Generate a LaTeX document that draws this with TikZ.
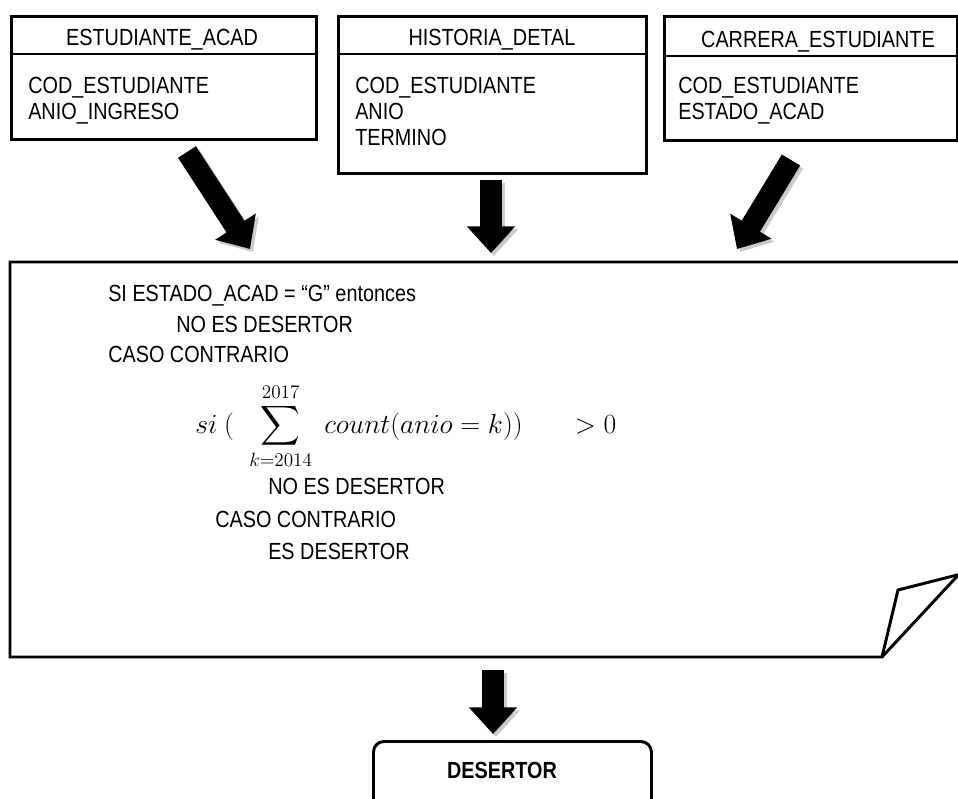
\documentclass[tikz,border=0pt]{standalone}
\usepackage{amsmath}
\usepackage{exscale}
\usepackage[no-math]{fontspec}
\setmainfont[FakeStretch=0.85]{Liberation Sans}
\usetikzlibrary{arrows.meta}
\tikzset{
  tbox/.style={draw, line width=2.2pt, anchor=north west, inner sep=0pt},
  sep/.style={line width=2.2pt},
  txt/.style={inner sep=0pt, font=\fontsize{17.5}{22}\selectfont},
  bigarrow/.style={line width=16pt, -{Triangle[width=35pt,length=20pt]}},
  shadowarrow/.style={line width=16pt, -{Triangle[width=35pt,length=20pt]}, draw=black!45, opacity=0.45},
  notebox/.style={line width=2.2pt, line join=miter}
}
\begin{document}
\begin{tikzpicture}[x=0.75pt,y=-0.75pt]
\useasboundingbox (0,0) rectangle (958,799);
\clip (0,0) rectangle (958,799);
% table boxes
\node[tbox, minimum width=228.75pt, minimum height=92.25pt] (b1) at (10,15) {};
\draw[sep] (10,54) -- (315,54);
\node[txt, anchor=base] (h1) at (162,46) {ESTUDIANTE\_ACAD};
\node[txt, anchor=base west] (b1a) at (28,94) {COD\_ESTUDIANTE};
\node[txt, anchor=base west] (b1b) at (28,120) {ANIO\_INGRESO};

\node[tbox, minimum width=231pt, minimum height=117.75pt] (b2) at (337,15) {};
\draw[sep] (337,54) -- (645,54);
\node[txt, anchor=base] (h2) at (492,46) {HISTORIA\_DETAL};
\node[txt, anchor=base west] (b2a) at (355,94) {COD\_ESTUDIANTE};
\node[txt, anchor=base west] (b2b) at (355,120) {ANIO};
\node[txt, anchor=base west] (b2c) at (355,146) {TERMINO};

\node[tbox, minimum width=219.75pt, minimum height=93pt] (b3) at (663,15) {};
\draw[sep] (663,56) -- (956,56);
\node[txt, anchor=base] (h3) at (818,48) {CARRERA\_ESTUDIANTE};
\node[txt, anchor=base west] (b3a) at (678,94) {COD\_ESTUDIANTE};
\node[txt, anchor=base west] (b3b) at (678,120) {ESTADO\_ACAD};

% arrows into the note
\coordinate (a1s) at (187,152);
\coordinate (a1e) at (250,249);
\coordinate (a2s) at (491,180);
\coordinate (a2e) at (491,253);
\coordinate (a3s) at (791,160);
\coordinate (a3e) at (737,249);
\draw[shadowarrow] ([shift={(3,3)}]a1s) -- ([shift={(3,3)}]a1e);
\draw[shadowarrow] ([shift={(3,3)}]a2s) -- ([shift={(3,3)}]a2e);
\draw[shadowarrow] ([shift={(3,3)}]a3s) -- ([shift={(3,3)}]a3e);
\draw[bigarrow] (a1s) -- (a1e);
\draw[bigarrow] (a2s) -- (a2e);
\draw[bigarrow] (a3s) -- (a3e);

% note
\draw[notebox] (10,262) -- (962,262) -- (962,571) -- (882,657) -- (10,657) -- cycle;
\draw[notebox] (882,657) -- (898,590) -- (957,575);

\node[txt, anchor=base west] (n1) at (108,301) {SI ESTADO\_ACAD = “G” entonces};
\node[txt, anchor=base west] (n2) at (176,332) {NO ES DESERTOR};
\node[txt, anchor=base west] (n3) at (108,362) {CASO CONTRARIO};
\node[inner sep=0pt, anchor=base west, font=\fontsize{22}{26}\selectfont] (f) at (195,433)
  {$si\ (\;\;\displaystyle\sum_{k=2014}^{2017}\; count(anio=k))\quad\;\;>0$};
\node[txt, anchor=base west] (n4) at (268,494) {NO ES DESERTOR};
\node[txt, anchor=base west] (n5) at (215,527) {CASO CONTRARIO};
\node[txt, anchor=base west] (n6) at (268,559) {ES DESERTOR};

% bottom
\coordinate (a4s) at (493,670);
\coordinate (a4e) at (493,734);
\draw[shadowarrow] ([shift={(3,3)}]a4s) -- ([shift={(3,3)}]a4e);
\draw[bigarrow] (a4s) -- (a4e);
\node[draw, line width=2.2pt, rounded corners=8pt, anchor=north west, minimum width=208.5pt, minimum height=60pt] (d) at (372,740) {};
\node[txt, anchor=base, font=\fontsize{17.5}{22}\selectfont\bfseries] (dt) at (502,778) {DESERTOR};
\end{tikzpicture}
\end{document}
